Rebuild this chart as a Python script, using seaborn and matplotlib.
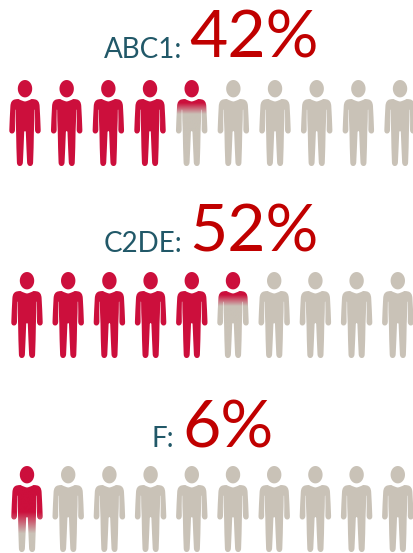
import numpy as np
import pandas as pd
import matplotlib.pyplot as plt
import seaborn as sns
from matplotlib.colors import to_rgb
from matplotlib.patches import PathPatch
from matplotlib.path import Path
from matplotlib.transforms import Affine2D

groups = ['ABC1:', 'C2DE:', 'F:']
shares = [42, 52, 6]

RED = '#CC0F3C'
GREY = '#C9C2B7'

# layout in pixels of the 414x553 picture
row_top = [80, 272, 466]
row_first = [25, 27, 27]
row_step = [41.67, 41.2, 41.2]
title_base = [58, 252, 447]
label_end = [182.5, 182, 174]
share_start = [189, 189, 182]
man_h = 86


def man_path():
    # right half of the outline, y is up, centre of the figure at 0,0
    half = [
        ((3.0, 22.0), (6.5, 24.0)),
        ((8.5, 24.0), (10.5, 23.5)),
        ((14.3, 22.5), (14.6, 17.0)),
        ((15.3, 5.0), (15.7, -7.0)),
        ((15.9, -10.5), (13.0, -10.5)),
        ((10.3, -10.5), (10.0, -7.0)),
        ((10.2, 3.0), (9.9, 13.0)),
        ((9.8, 14.0), (9.5, 13.0)),
        ((9.5, 3.0), (8.9, -9.0)),
        ((8.7, -25.0), (8.1, -39.5)),
        ((8.0, -43.0), (5.2, -43.0)),
        ((2.4, -43.0), (2.1, -39.5)),
        ((1.4, -25.0), (0.8, -9.0)),
        ((0.4, -8.0), (0.0, -8.0)),
    ]
    start = (0.0, 21.5)
    pts = [start]
    codes = [Path.MOVETO]
    for c, p in half:
        pts += [c, p]
        codes += [Path.CURVE3, Path.CURVE3]
    # left half, walked back up
    ends = [start] + [p for _, p in half]
    for i in range(len(half) - 1, -1, -1):
        c = half[i][0]
        p = ends[i]
        pts += [(-c[0], c[1]), (-p[0], p[1])]
        codes += [Path.CURVE3, Path.CURVE3]
    pts.append(start)
    codes.append(Path.CLOSEPOLY)
    # head
    t = np.linspace(0, 2 * np.pi, 40)
    head = np.c_[7.2 * np.sin(t), 34.3 + 8.7 * np.cos(t)]
    pts += [tuple(v) for v in head]
    codes += [Path.MOVETO] + [Path.LINETO] * 38 + [Path.CLOSEPOLY]
    return Path(np.array(pts), codes)


rows = []
for r, share in enumerate(shares):
    full = share // 10
    for i in range(10):
        state = 'red' if i < full else ('part' if i == full else 'grey')
        rows.append({'row': r, 'x': row_first[r] + i * row_step[r],
                     'y': row_top[r] + man_h / 2, 'state': state})
people = pd.DataFrame(rows)

sns.set_theme(style='white')
plt.rcParams['font.family'] = ['Lato', 'DejaVu Sans']

fig = plt.figure(figsize=(4.14, 5.53), dpi=100)
ax = fig.add_axes([0, 0, 1, 1])
man = man_path()

solid = people[people['state'] != 'part']
size = (man_h * 72 / fig.dpi) ** 2
sns.scatterplot(data=solid, x='x', y='y', hue='state',
                palette={'red': RED, 'grey': GREY}, marker=man, s=size,
                linewidth=0, legend=False, ax=ax)

# the one partly filled figure in each row fades from red into grey
for _, p in people[people['state'] == 'part'].iterrows():
    frac = (shares[p['row']] % 10) / 10
    centre = 0.165 + 0.825 * frac
    width = 0.07 + 0.3 * frac
    t = np.linspace(0, 1, 200)[:, None, None]
    b = np.clip((centre + width / 2 - t) / width, 0, 1)
    img = np.array(to_rgb(RED)) * b + np.array(to_rgb(GREY)) * (1 - b)
    im = ax.imshow(img, aspect='auto', interpolation='bilinear',
                   extent=(p['x'] - 20, p['x'] + 20,
                           p['y'] + man_h / 2, p['y'] - man_h / 2))
    clip = PathPatch(man, transform=Affine2D().scale(1, -1).translate(p['x'], p['y']) + ax.transData,
                     facecolor='none', edgecolor='none')
    ax.add_patch(clip)
    im.set_clip_path(clip)

for r, (group, share) in enumerate(zip(groups, shares)):
    ax.text(label_end[r], title_base[r], group, ha='right', va='baseline',
            fontsize=20, color='#215868')
    ax.text(share_start[r], title_base[r], f'{share}%', ha='left', va='baseline',
            fontsize=47.5, color='#C00000')

ax.set_xlim(0, 414)
ax.set_ylim(553, 0)
ax.axis('off')
fig.savefig('out.png', dpi=100)
